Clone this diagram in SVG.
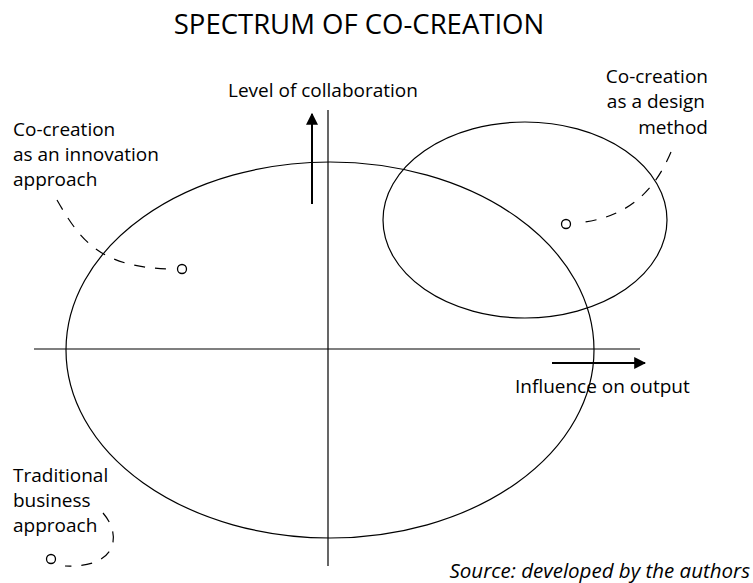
<svg xmlns="http://www.w3.org/2000/svg" width="753" height="583" viewBox="0 0 753 583">
<style>
text{font-family:"Open Sans","Liberation Sans",sans-serif;fill:#000;font-size:19px}
.title{font-size:27.5px}
.src{font-size:20.5px;font-style:italic}
.line{fill:none;stroke:#000;stroke-width:1.2}
.dash{fill:none;stroke:#000;stroke-width:1.2;stroke-dasharray:11 10}
.dot{fill:#fff;stroke:#000;stroke-width:1.3}
.arrow{fill:none;stroke:#000;stroke-width:2}
</style>
<defs>
<marker id="ah" viewBox="0 0 10 10" refX="9" refY="5" markerWidth="6" markerHeight="6" orient="auto" markerUnits="strokeWidth">
<path d="M0,0 L10,5 L0,10 Z" fill="#000"/>
</marker>
</defs>
<rect width="753" height="583" fill="#fff"/>
<text class="title" x="359" y="34" text-anchor="middle">SPECTRUM OF CO-CREATION</text>
<g id="axes">
<line class="line" x1="328" y1="110" x2="328" y2="566"/>
<line class="line" x1="34" y1="349" x2="640" y2="349"/>
</g>
<g id="connectors">
<line class="arrow" x1="312" y1="204" x2="312" y2="114" marker-end="url(#ah)"/>
<line class="arrow" x1="552" y1="363" x2="645" y2="363" marker-end="url(#ah)"/>
<path class="dash" d="M57 200 C80 240 100 268 172 269"/>
<path class="dash" d="M671 152 C655 190 630 215 585 222"/>
<path class="dash" d="M103 513 C122 535 118 568 65 566"/>
</g>
<g id="traditional-ellipse">
<ellipse class="line" cx="330" cy="350" rx="264" ry="188"/>
</g>
<g id="design-ellipse">
<ellipse class="line" cx="525" cy="220" rx="142" ry="98"/>
</g>
<g id="innovation-point">
<circle class="dot" cx="182" cy="269" r="4.5"/>
</g>
<g id="design-point">
<circle class="dot" cx="566" cy="224" r="4.5"/>
</g>
<g id="traditional-point">
<circle class="dot" cx="51" cy="559" r="4.5"/>
</g>
<g id="labels">
<text x="228" y="97">Level of collaboration</text>
<text x="515" y="393">Influence on output</text>
<text x="13" y="136">Co-creation</text>
<text x="13" y="161">as an innovation</text>
<text x="13" y="186">approach</text>
<text x="708" y="83" text-anchor="end">Co-creation</text>
<text x="705" y="108" text-anchor="end">as a design</text>
<text x="708" y="134" text-anchor="end">method</text>
<text x="13" y="482">Traditional</text>
<text x="13" y="507">business</text>
<text x="13" y="532">approach</text>
<text class="src" x="750" y="578" text-anchor="end">Source: developed by the authors</text>
</g>
</svg>
